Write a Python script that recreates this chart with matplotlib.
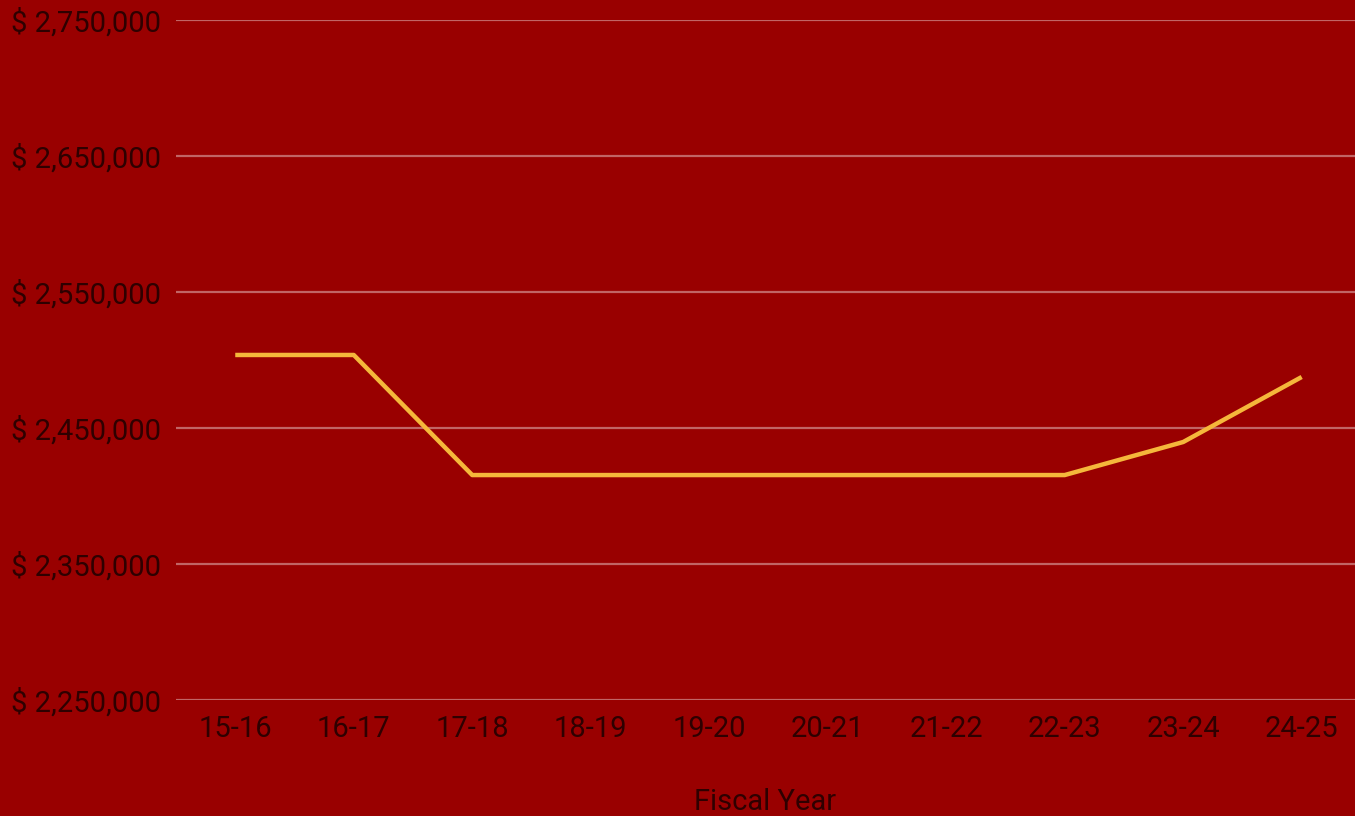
import matplotlib.pyplot as plt
import matplotlib.ticker as mticker

# data
years = ['15-16', '16-17', '17-18', '18-19', '19-20', '20-21', '21-22', '22-23', '23-24', '24-25']
budget = [2503700, 2503700, 2415400, 2415400, 2415400, 2415400, 2415400, 2415400, 2439700, 2487500]
y_ticks = [2250000, 2350000, 2450000, 2550000, 2650000, 2750000]

bg = '#990000'
txt = '#2e0000'

plt.rcParams['font.family'] = ['Roboto', 'DejaVu Sans']

fig = plt.figure(figsize=(13.55, 8.16), dpi=100, facecolor=bg)
ax = fig.add_axes([176/1355, 1 - 700/816, 1 - 176/1355, 680/816])
ax.set_facecolor(bg)

x = list(range(len(years)))
ax.plot(x, budget, color='#f5b73b', linewidth=3.2, solid_capstyle='butt', zorder=3)

ax.set_ylim(2250000, 2750000)
ax.set_xlim(-0.5, 9.45)
ax.set_yticks(y_ticks)
ax.yaxis.set_major_formatter(mticker.FuncFormatter(lambda v, p: '$ {:,.0f}'.format(v)))
ax.set_xticks(x)
ax.set_xticklabels(years)

ax.grid(axis='y', color='white', alpha=0.4, linewidth=1.6)
ax.grid(axis='x', visible=False)
ax.set_axisbelow(True)
for s in ax.spines.values():
    s.set_visible(False)
ax.tick_params(axis='both', length=0, labelsize=21, labelcolor=txt)
ax.tick_params(axis='y', pad=11)
ax.tick_params(axis='x', pad=11)

ax.set_xlabel('Fiscal Year', fontsize=21, color=txt, labelpad=32)

fig.savefig('out.png', dpi=100, facecolor=bg)
